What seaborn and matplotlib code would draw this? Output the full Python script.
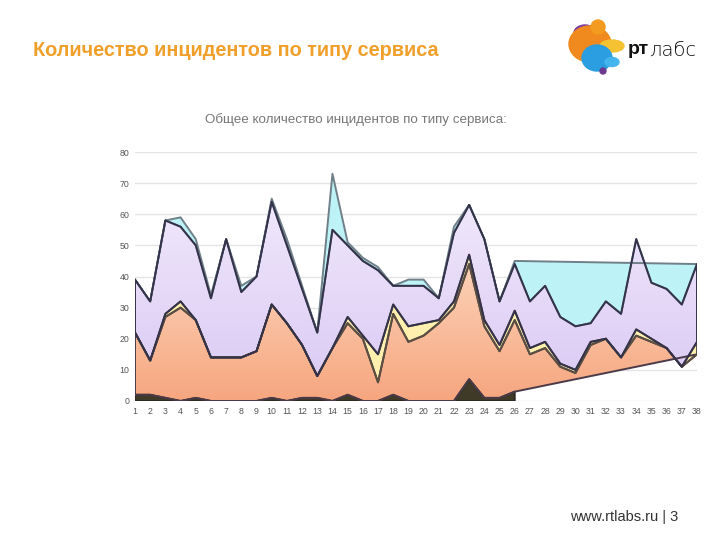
import numpy as np
import pandas as pd
import matplotlib
matplotlib.use("Agg")
import matplotlib.pyplot as plt
from matplotlib.patches import Polygon, Ellipse
from matplotlib.colors import LinearSegmentedColormap
import seaborn as sns

# ---------------- data ----------------
x_labels = [str(i) for i in range(1, 39)]
y_ticks = [0, 10, 20, 30, 40, 50, 60, 70, 80]

# series values (stacked), series 1 and 5 only reported for points 1..26
s_dark = [2, 2, 1, 0, 1, 0, 0, 0, 0, 1, 0, 1, 1, 0, 2, 0, 0, 2, 0, 0, 0, 0, 7, 1, 1, 3]
s_orange = [20, 11, 26, 30, 25, 14, 14, 14, 16, 30, 25, 17, 7, 17, 23, 20, 6, 26, 19, 21,
            25, 30, 37, 23, 15, 23, 15, 17, 11, 9, 18, 20, 14, 21, 19, 17, 11, 15]
s_yellow = [0, 0, 1, 2, 0, 0, 0, 0, 0, 0, 0, 0, 0, 0, 2, 1, 9, 3, 5, 4,
            1, 2, 3, 2, 2, 3, 2, 2, 1, 1, 1, 0, 0, 2, 1, 0, 0, 4]
s_purple = [17, 19, 30, 24, 24, 19, 38, 21, 24, 33, 25, 18, 14, 38, 23, 24, 27, 6, 13, 12,
            7, 22, 16, 26, 14, 15, 15, 18, 15, 14, 6, 12, 14, 29, 18, 19, 20, 25]
s_cyan = [0, 0, 0, 3, 2, 1, 0, 2, 0, 1, 2, 1, 0, 18, 1, 1, 1, 0, 2, 2, 0, 2, 0, 0, 0, 1]

title = "Количество инцидентов по типу сервиса"
subtitle = "Общее количество инцидентов по типу сервиса:"
footer = "www.rtlabs.ru | 3"

# ---------------- cumulative layers ----------------
n = len(x_labels)
x = np.arange(1, n + 1)
m = len(s_dark)
xs = x[:m]
dark_cum = np.array(s_dark, float)
dark_pad = np.concatenate([dark_cum, np.zeros(n - m)])
orange_cum = dark_pad + np.array(s_orange, float)
yellow_cum = orange_cum + np.array(s_yellow, float)
purple_cum = yellow_cum + np.array(s_purple, float)
cyan_cum = purple_cum[:m] + np.array(s_cyan, float)

# polygons as a chart engine would build them (top forwards, bottom backwards)
polys = {
    "cyan": (np.concatenate([xs, x[::-1]]), np.concatenate([cyan_cum, purple_cum[::-1]])),
    "dark": (np.concatenate([xs, [m, 1]]), np.concatenate([dark_cum, [0, 0]])),
    "orange": (np.concatenate([x, xs[::-1]]), np.concatenate([orange_cum, dark_cum[::-1]])),
    "yellow": (np.concatenate([x, x[::-1]]), np.concatenate([yellow_cum, orange_cum[::-1]])),
    "purple": (np.concatenate([x, x[::-1]]), np.concatenate([purple_cum, yellow_cum[::-1]])),
}
fills = {"cyan": "#bdf3f7", "dark": "#3e3a27", "orange": "#f8b595",
         "yellow": "#fff0b0", "purple": "#e2d4f6"}
grads = {"orange": ("#fcd2b8", "#f6a67f"), "purple": ("#f0e8fb", "#d9c8f4")}
edges = {"cyan": "#6f8088", "dark": "#2e2a20", "orange": "#4b3a48",
         "yellow": "#5a4f40", "purple": "#33324a"}

# ---------------- figure ----------------
sns.set_theme(style="white")
plt.rcParams['font.family'] = ['Liberation Sans', 'DejaVu Sans']

fig = plt.figure(figsize=(7.2, 5.4), dpi=100)
fig.patch.set_facecolor("white")
ax = fig.add_axes([135 / 720, 1 - 401 / 540, (697 - 135) / 720, (401 - 152) / 540])

for yt in y_ticks:
    ax.axhline(yt, color="#e4e4e4", lw=1.0, zorder=0)

for z, key in enumerate(["cyan", "dark", "orange", "yellow", "purple"]):
    px, py = polys[key]
    if key in grads:
        poly = Polygon(np.column_stack([px, py]), closed=True, facecolor="none",
                       edgecolor="none", zorder=2 + z)
        ax.add_patch(poly)
        top = py.max()
        cmap = LinearSegmentedColormap.from_list(key, [grads[key][1], grads[key][0]])
        grad = np.linspace(0, 1, 256).reshape(-1, 1)
        im = ax.imshow(grad, extent=[1, 38, 0, top], origin="lower", cmap=cmap,
                       aspect="auto", zorder=2 + z)
        im.set_clip_path(poly)
    else:
        ax.add_patch(Polygon(np.column_stack([px, py]), closed=True,
                             facecolor=fills[key], edgecolor="none", zorder=2 + z))

# outlines via seaborn
rows = []
for key in ["cyan", "dark", "orange", "yellow", "purple"]:
    px, py = polys[key]
    px = np.append(px, px[0]); py = np.append(py, py[0])
    for a, b in zip(px, py):
        rows.append({"x": a, "y": b, "poly": key})
df = pd.DataFrame(rows)
sns.lineplot(data=df, x="x", y="y", hue="poly", palette=edges, estimator=None,
             sort=False, lw=1.4, ax=ax, legend=False, zorder=10)

ax.set_xlim(1, 38)
ax.set_ylim(0, 80)
ax.set_xticks(x)
ax.set_xticklabels(x_labels)
ax.set_yticks(y_ticks)
ax.tick_params(axis="both", labelsize=6.3, colors="#555555", length=0, pad=4)
ax.set_xlabel("")
ax.set_ylabel("")
for s in ax.spines.values():
    s.set_visible(False)

# ---------------- texts ----------------
fig.text(33 / 720, 1 - 50 / 540, title, color="#f0a02a", fontsize=14.3,
         fontweight="bold", va="center", ha="left")
fig.text(356 / 720, 1 - 120 / 540, subtitle, color="#777777", fontsize=9.6,
         va="center", ha="center")
fig.text(678 / 720, 1 - 517 / 540, footer, color="#333333", fontsize=10.5,
         va="center", ha="right")

# ---------------- logo ----------------
lax = fig.add_axes([560 / 720, 1 - 80 / 540, 70 / 720, 65 / 540])
lax.set_xlim(0, 70); lax.set_ylim(0, 65)
lax.axis("off")
lax.add_patch(Ellipse((25, 47), 22, 16, color="#7a3fa0"))
lax.add_patch(Ellipse((30, 36), 42, 36, color="#f08a1e"))
lax.add_patch(Ellipse((38, 53), 14, 14, color="#f39a20"))
lax.add_patch(Ellipse((52, 34), 24, 12, color="#f5c232"))
lax.add_patch(Ellipse((37, 22), 30, 26, color="#2a9ee0"))
lax.add_patch(Ellipse((52, 18), 14, 9, color="#45b5ee"))
lax.add_patch(Ellipse((43, 9), 6, 6, color="#6b3a8f"))
fig.text(628 / 720, 1 - 50 / 540, "рт", fontsize=14, fontweight="bold",
         color="#111111", va="center", ha="left")
fig.text(649 / 720, 1 - 50 / 540, "лабс", fontsize=14, fontweight="light",
         color="#111111", va="center", ha="left", family=["DejaVu Sans"])

fig.savefig("out.png", dpi=100, facecolor="white")
